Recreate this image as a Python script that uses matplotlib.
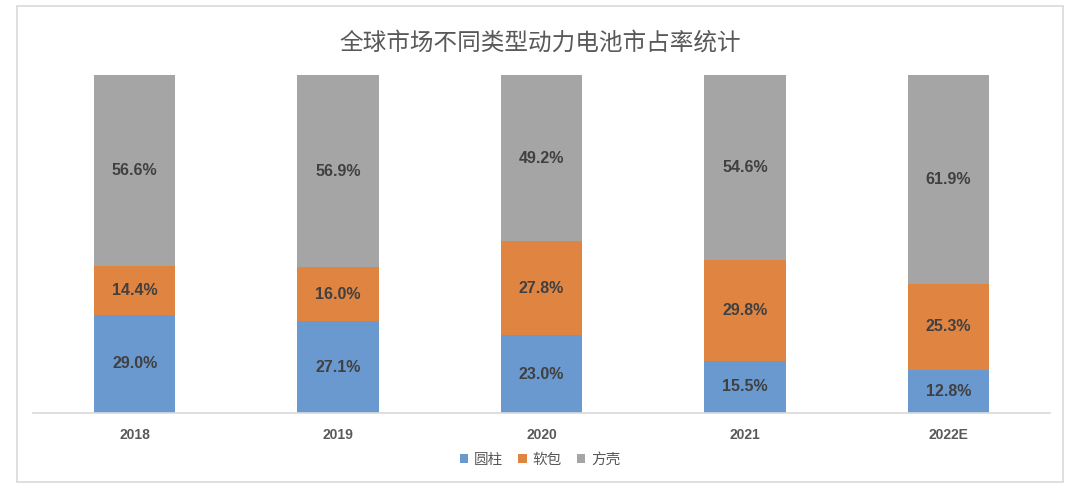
import numpy as np
import matplotlib
matplotlib.use('Agg')
import matplotlib.pyplot as plt
from matplotlib.patches import Rectangle

plt.rcParams['font.family'] = ['Liberation Sans', 'Noto Sans CJK SC', 'DejaVu Sans']

# Data
years = ['2018', '2019', '2020', '2021', '2022E']
series_names = ['圆柱', '软包', '方壳']
cylinder = [29.0, 27.1, 23.0, 15.5, 12.8]
pouch = [14.4, 16.0, 27.8, 29.8, 25.3]
prismatic = [56.6, 56.9, 49.2, 54.6, 61.9]
colors = ['#6A99D0', '#E08442', '#A5A5A5']

fig = plt.figure(figsize=(10.8, 4.95), dpi=100)
fig.patch.set_facecolor('white')

# chart frame
fig.patches.append(Rectangle((17/1080, 13/495), 1046/1080, 476/495, transform=fig.transFigure,
                             fill=False, edgecolor='#D9D9D9', lw=1.2))

ax = fig.add_axes([33/1080, 82/495, 1017/1080, 338/495])
x = np.arange(len(years))
bottom = np.zeros(len(years))
for name, vals, c in zip(series_names, [cylinder, pouch, prismatic], colors):
    vals = np.array(vals)
    ax.bar(x, vals, 0.4, bottom=bottom, color=c, label=name)
    for xi, b, v in zip(x, bottom, vals):
        ax.text(xi, b + v / 2, f'{v:.1f}%', ha='center', va='center',
                fontsize=11.5, fontweight='bold', color='#404040')
    bottom += vals

ax.set_xlim(-0.5, len(years) - 0.5)
ax.set_ylim(0, 100)
ax.set_yticks([])
ax.set_xticks(x)
ax.set_xticklabels(years, fontsize=10, fontweight='bold', color='#595959')
ax.tick_params(axis='x', length=0, pad=11)
for s in ['top', 'right', 'left']:
    ax.spines[s].set_visible(False)
ax.spines['bottom'].set_color('#D9D9D9')
ax.spines['bottom'].set_linewidth(1.2)

fig.text(0.5, 1 - 43/495, '全球市场不同类型动力电池市占率统计', ha='center', va='center',
         fontsize=17, color='#595959', family=['Noto Sans CJK SC', 'DejaVu Sans'])

leg = fig.legend(loc='center', bbox_to_anchor=(0.5, 1 - 460/495), ncol=3, frameon=False,
                 handlelength=0.6, handleheight=0.6, handletextpad=0.4,
                 columnspacing=1.0, prop={'family': ['Noto Sans CJK SC'], 'size': 10.5})
for t in leg.get_texts():
    t.set_color('#595959')

fig.savefig('out.png', dpi=100)
